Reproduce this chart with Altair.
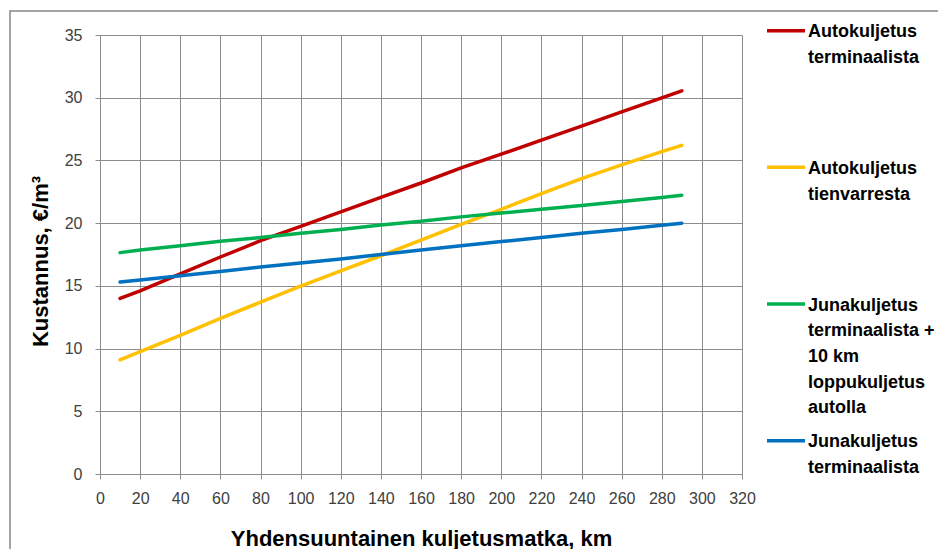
import altair as alt
import pandas as pd

# ---- data ----
distance_km = [10, 20, 40, 60, 80, 100, 120, 140, 160, 180, 200, 220, 240, 260, 280, 290]
auto_terminaali = [14.0, 14.6, 15.95, 17.3, 18.6, 19.75, 20.9, 22.05, 23.2, 24.4, 25.5, 26.62, 27.74, 28.87, 29.99, 30.55]
auto_tienvarsi = [9.1, 9.75, 11.05, 12.4, 13.7, 14.97, 16.2, 17.4, 18.65, 19.9, 21.1, 22.35, 23.55, 24.65, 25.7, 26.2]
juna_loppukuljetus = [17.65, 17.85, 18.2, 18.55, 18.85, 19.2, 19.5, 19.85, 20.15, 20.5, 20.8, 21.1, 21.4, 21.72, 22.05, 22.23]
juna_terminaali = [15.3, 15.47, 15.8, 16.15, 16.5, 16.82, 17.15, 17.5, 17.85, 18.2, 18.53, 18.85, 19.2, 19.5, 19.83, 20.0]

series_names = [
    "Autokuljetus terminaalista",
    "Autokuljetus tienvarresta",
    "Junakuljetus terminaalista + 10 km loppukuljetus autolla",
    "Junakuljetus terminaalista",
]
legend_labels = [
    "Autokuljetus\nterminaalista",
    "Autokuljetus\ntienvarresta",
    "Junakuljetus\nterminaalista +\n10 km\nloppukuljetus\nautolla",
    "Junakuljetus\nterminaalista",
]
series_colors = ["#C00000", "#FFC000", "#00B050", "#0070C0"]
x_ticks = list(range(0, 321, 20))
y_ticks = list(range(0, 36, 5))

x_title = "Yhdensuuntainen kuljetusmatka, km"
y_title = "Kustannus, €/m³"

# ---- build tables ----
all_values = [auto_terminaali, auto_tienvarsi, juna_loppukuljetus, juna_terminaali]
rows = []
for name, vals in zip(series_names, all_values):
    for d, v in zip(distance_km, vals):
        rows.append({"series": name, "km": d, "cost": v})
df = pd.DataFrame(rows)

legend_df = pd.DataFrame({"series": series_names, "label": legend_labels})

W, H = 642, 439
FONT = "Liberation Sans"
GRID = "#8c8c8c"

color_scale = alt.Scale(domain=series_names, range=series_colors)

lines = alt.Chart(df).mark_line(strokeWidth=3.5, strokeCap="round").encode(
    x=alt.X("km:Q",
            scale=alt.Scale(domain=[0, 320], nice=False),
            axis=alt.Axis(values=x_ticks, title=x_title, titleY=71,
                          titleBaseline="alphabetic", labelPadding=11)),
    y=alt.Y("cost:Q",
            scale=alt.Scale(domain=[0, 35], nice=False),
            axis=alt.Axis(values=y_ticks, title=y_title, titleX=-52.5, titleY=226,
                          titleAngle=270, titleAlign="center",
                          titleBaseline="alphabetic", labelPadding=13)),
    color=alt.Color("series:N", scale=color_scale, legend=None),
)

legend_y = alt.Y("series:N", sort=series_names,
                 scale=alt.Scale(type="point", range=[-4.3, 405.7], padding=0),
                 axis=None)

legend_rules = alt.Chart(legend_df).mark_rule(strokeWidth=3.5).encode(
    x=alt.value(667), x2=alt.value(705),
    y=legend_y,
    color=alt.Color("series:N", scale=color_scale, legend=None),
)

legend_text = alt.Chart(legend_df).mark_text(
    align="left", baseline="alphabetic", dy=6.5, lineBreak="\n",
    lineHeight=25.7, fontSize=18, fontWeight="bold", font=FONT, color="#000000",
).encode(
    x=alt.value(708),
    y=legend_y,
    text=alt.Text("label:N"),
)

# outer chart-area frame (decoration)
frame_df = pd.DataFrame({"k": [0]})
frame = alt.Chart(frame_df).mark_rect(
    fill=None, fillOpacity=0, stroke="#868686", strokeWidth=1.5
).encode(
    x=alt.value(-90), x2=alt.value(880), y=alt.value(-24), y2=alt.value(560))

chart = alt.layer(frame, lines, legend_rules, legend_text).resolve_scale(
    y="independent"
).properties(
    width=W, height=H,
    padding={"left": 92, "top": 27, "right": 196, "bottom": 75},
    autosize=alt.AutoSizeParams(type="none"),
    background="#ffffff",
).configure_view(stroke=None).configure_axis(
    grid=True, gridColor=GRID, gridWidth=1, gridOpacity=1,
    domainColor=GRID, domainWidth=1, tickColor=GRID, tickSize=5, tickWidth=1,
    labelFont=FONT, labelFontSize=16, labelColor="#404040", labelFlush=False,
    labelOverlap=False,
    titleFont=FONT, titleFontSize=22, titleFontWeight="bold", titleColor="#000000",
)

chart.save("out.html", embed_options={"renderer": "svg", "actions": False})
